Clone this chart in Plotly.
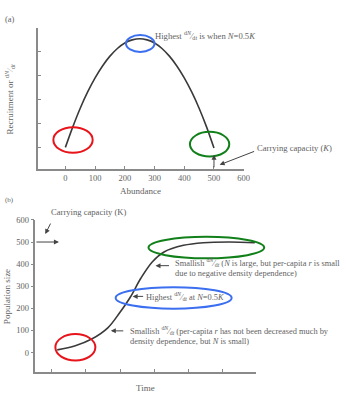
import plotly.graph_objects as go

# ---- Panel (a): recruitment vs abundance ----
abundance = [0, 25, 50, 75, 100, 125, 150, 175, 200, 225, 250, 275, 300, 325, 350, 375, 400, 425, 450, 475, 500]
recruitment = [1.0, 1.86, 2.64, 3.32, 3.91, 4.41, 4.82, 5.14, 5.37, 5.50, 5.55, 5.50, 5.37, 5.14, 4.82, 4.41, 3.91, 3.32, 2.64, 1.86, 0.97]
abund_ticks = [0, 100, 200, 300, 400, 500, 600]
recruit_ticks = [1, 2, 3, 4, 5, 6]

# ---- Panel (b): population size vs time ----
time = [1.16, 1.69, 2.17, 2.65, 2.99, 3.30, 3.61, 3.95, 4.29, 4.86, 5.44, 6.20, 6.95]
pop_size = [12, 31, 61, 113, 180, 250, 336, 411, 455, 485, 497, 500, 497]
time_ticks = [1, 2, 3, 4, 5, 6, 7]
pop_ticks = [0, 100, 200, 300, 400, 500, 600]

W, H = 346, 393
FONT = "Liberation Serif"
TXT = "#5f5f5f"
AX = "#8a8a8a"
FRAC = "<sup>d<i>N</i></sup>⁄<sub>d<i>t</i></sub>"


def px(x):
    return x / W


def py(y):
    return 1 - y / H


fig = go.Figure()
fig.add_trace(go.Scatter(x=abundance, y=recruitment, mode="lines", line=dict(color="#3a3a3a", width=1.6, shape="spline"),
                         xaxis="x", yaxis="y", showlegend=False, hoverinfo="skip"))
fig.add_trace(go.Scatter(x=time, y=pop_size, mode="lines", line=dict(color="#3a3a3a", width=1.6, shape="spline"),
                         xaxis="x2", yaxis="y2", showlegend=False, hoverinfo="skip"))

axis_common = dict(showline=True, linecolor=AX, linewidth=1.5, showgrid=False, zeroline=False,
                   tickcolor=AX, ticklen=3, tickwidth=1,
                   tickfont=dict(family=FONT, size=8.5, color=TXT))

fig.update_layout(
    width=W, height=H, margin=dict(l=0, r=0, t=0, b=0),
    paper_bgcolor="white", plot_bgcolor="white",
    xaxis=dict(domain=[px(39), px(248)], range=[-91, 600], tickvals=abund_ticks, ticks="inside",
               anchor="y", **axis_common),
    yaxis=dict(domain=[py(166), py(23)], range=[0.1, 6.01], tickvals=recruit_ticks, ticks="inside",
               showticklabels=False, anchor="x", **axis_common),
    xaxis2=dict(domain=[px(36), px(260.7)], range=[0.52, 6.99], tickvals=time_ticks, ticks="inside",
                showticklabels=False, anchor="y2", **axis_common),
    yaxis2=dict(domain=[py(371.7), py(217.7)], range=[-88, 600], tickvals=pop_ticks, ticks="outside",
                anchor="x2", **axis_common),
)


def ellipse(cx, cy, w, h, color):
    fig.add_shape(type="circle", xref="paper", yref="paper",
                  x0=px(cx - w / 2), x1=px(cx + w / 2), y0=py(cy + h / 2), y1=py(cy - h / 2),
                  line=dict(color=color, width=2))


RED, BLUE, GREEN = "#e8141b", "#3b6ff0", "#12801a"
ellipse(74.3, 136.7, 40, 26, RED)
ellipse(142.7, 39, 29, 17, BLUE)
ellipse(213.3, 141, 40, 25, GREEN)
ellipse(76.7, 346.7, 40.7, 26.7, RED)
ellipse(176.7, 296.7, 118, 21.7, BLUE)
ellipse(210, 245.7, 117.7, 21.7, GREEN)


def text(x, y, s, size=8.4, anchor="left", angle=0):
    fig.add_annotation(xref="paper", yref="paper", x=px(x), y=py(y), text=s, showarrow=False,
                       xanchor=anchor, yanchor="middle", textangle=angle,
                       font=dict(family=FONT, size=size, color=TXT))


def arrow(x, y, ax, ay, xr, yr):
    fig.add_annotation(xref=xr, yref=yr, x=x, y=y, ax=ax, ay=ay, text="", showarrow=True,
                       arrowhead=2, arrowsize=1, arrowwidth=1, arrowcolor="#444")


# panel (a) texts
text(3, 14, "(a)", size=8.5)
text(155.7, 31, "Highest " + FRAC + " is when <i>N</i>=0.5<i>K</i>", size=8.6)
text(260, 145, "Carrying capacity (<i>K</i>)", size=8.6)
text(143, 188, "Abundance", size=9, anchor="center")
text(10, 95, "Recruitment or " + FRAC, size=9, anchor="center", angle=-90)
arrow(500, 0.69, 0, 14, "x", "y")
arrow(519, 0.27, 36, -14, "x", "y")

# panel (b) texts
text(3, 198, "(b)", size=7)
text(50, 210, "Carrying capacity (K)", size=8.6)
text(175.7, 260.7, "Smallish " + FRAC + " (<i>N</i> is large, but per-capita <i>r</i> is small")
text(175.7, 272, "due to negative density dependence)")
text(146.7, 295, "Highest " + FRAC + " at <i>N</i>=0.5<i>K</i>")
text(130, 329.3, "Smallish " + FRAC + " (per-capita <i>r</i> has not been decreased much by")
text(130, 340.5, "density dependence, but <i>N</i> is small)")
text(148, 387.7, "Time", size=9, anchor="center")
text(7, 295, "Population size", size=9, anchor="center", angle=-90)
arrow(0.81, 536, 6, -12, "x2", "y2")
arrow(1.21, 500, -24, 0, "x2", "y2")
arrow(4.04, 393, 15, 0, "x2", "y2")
arrow(3.37, 254, 12, 0, "x2", "y2")
arrow(2.73, 98, 14, 0, "x2", "y2")

fig.write_html("out.html")
